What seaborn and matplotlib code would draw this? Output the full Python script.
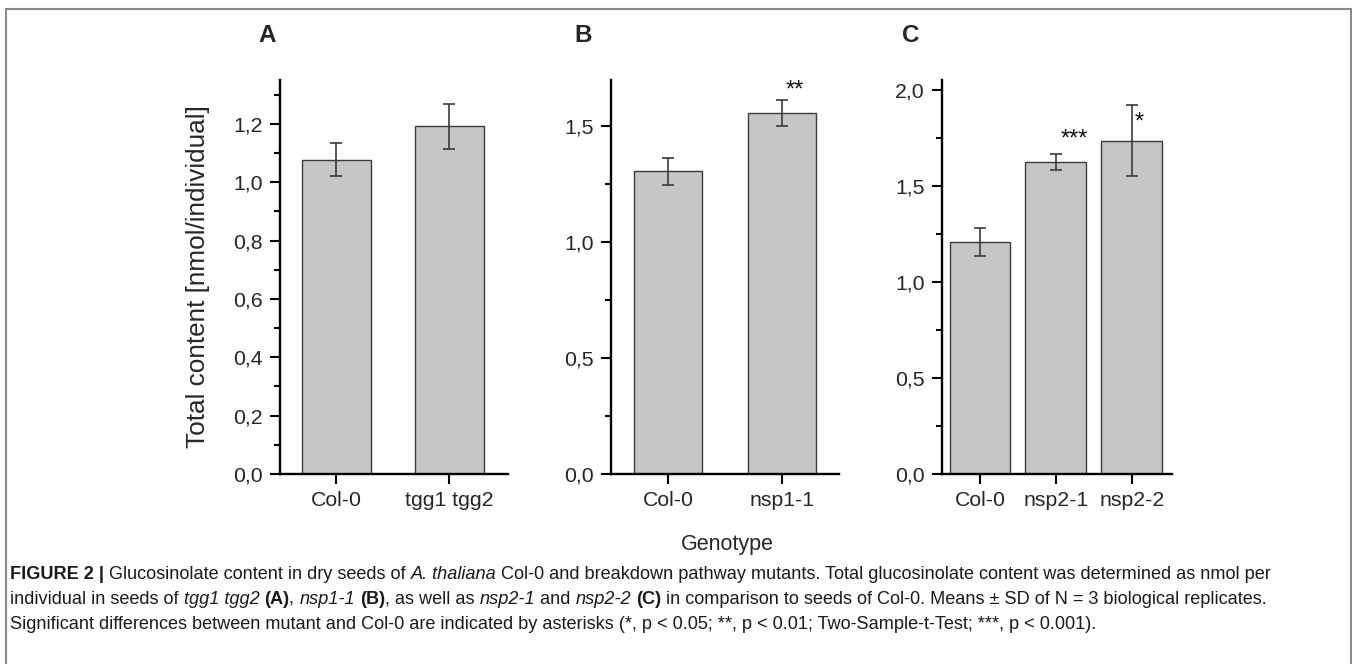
import matplotlib
matplotlib.use("Agg")
import matplotlib.pyplot as plt
import seaborn as sns
import pandas as pd
from matplotlib.ticker import MultipleLocator, FuncFormatter
from matplotlib.patches import Rectangle

# ---------------- data ----------------
cats_a = ["Col-0", "tgg1 tgg2"]
vals_a = [1.077, 1.191]
sd_a = [0.057, 0.078]
sig_a = ["", ""]

cats_b = ["Col-0", "nsp1-1"]
vals_b = [1.307, 1.559]
sd_b = [0.058, 0.056]
sig_b = ["", "**"]

cats_c = ["Col-0", "nsp2-1", "nsp2-2"]
vals_c = [1.207, 1.624, 1.734]
sd_c = [0.073, 0.041, 0.185]
sig_c = ["", "***", "*"]

panel_letters = ["A", "B", "C"]
y_label = "Total content [nmol/individual]"
x_label = "Genotype"

# ---------------- style ----------------
sns.set_theme(style="white")
plt.rcParams["font.family"] = ["Liberation Sans", "DejaVu Sans"]

W, H = 1352, 664
fig = plt.figure(figsize=(W / 100, H / 100), dpi=100)


def fx(px):
    return px / W


def fy(py):
    return 1 - py / H


BAR_FC = "#c6c6c6"
EDGE = "#3a3a3a"
TICK_FS = 15.3

panels = [
    (cats_a, vals_a, sd_a, sig_a, 280, 508, 1.35, 0.2, 0.1, 0.61, (-0.5, 1.52)),
    (cats_b, vals_b, sd_b, sig_b, 611, 839, 1.70, 0.5, 0.25, 0.60, (-0.5, 1.5)),
    (cats_c, vals_c, sd_c, sig_c, 942, 1172, 2.05, 0.5, 0.25, 0.80, (-0.5, 2.53)),
]
sig_offsets = {"**": (0.03, -0.01, "left", "bottom"),
               "***": (0.24, 0.02, "center", "bottom"),
               "*": (0.10, -0.15, "center", "bottom")}

top_px, bot_px = 80, 474
axes = []
for (cats, vals, sds, sigs, lpx, rpx, ymax, maj, mnr, bw, xl) in panels:
    ax = fig.add_axes([fx(lpx), fy(bot_px), (rpx - lpx) / W, (bot_px - top_px) / H])
    df = pd.DataFrame({"genotype": cats, "value": vals})
    sns.barplot(data=df, x="genotype", y="value", ax=ax, color=BAR_FC,
                width=bw, edgecolor=EDGE, linewidth=1.0, errorbar=None,
                saturation=1)
    ax.errorbar(range(len(cats)), vals, yerr=sds, fmt="none", ecolor=EDGE,
                elinewidth=1.2, capsize=4.2, capthick=1.2, zorder=5)
    for i, s in enumerate(sigs):
        if s:
            dx, dy, ha, va = sig_offsets[s]
            ax.text(i + dx, vals[i] + sds[i] + dy, s, ha=ha, va=va,
                    fontsize=17, color="#111111")
    ax.set_ylim(0, ymax)
    ax.set_xlim(*xl)
    ax.yaxis.set_major_locator(MultipleLocator(maj))
    ax.yaxis.set_minor_locator(MultipleLocator(mnr))
    ax.yaxis.set_major_formatter(FuncFormatter(lambda v, p: f"{v:.1f}".replace(".", ",")))
    for sp in ["top", "right"]:
        ax.spines[sp].set_visible(False)
    for sp in ["left", "bottom"]:
        ax.spines[sp].set_color("black")
        ax.spines[sp].set_linewidth(1.7)
    ax.tick_params(axis="y", which="major", direction="out", length=7.5, width=1.5,
                   labelsize=TICK_FS, pad=5, color="black", left=True)
    ax.tick_params(axis="y", which="minor", direction="out", length=4, width=1.5,
                   color="black", left=True)
    ax.tick_params(axis="x", which="major", direction="out", length=7.5, width=1.5,
                   labelsize=TICK_FS, pad=5, color="black", bottom=True)
    ax.set_xlabel("")
    ax.set_ylabel("")
    ax.set_facecolor("none")
    axes.append(ax)

# panel letters
for letter, xpx in zip(panel_letters, [267, 583, 911]):
    fig.text(fx(xpx), fy(42), letter, ha="center", va="baseline",
             fontsize=17.5, fontweight="bold")

fig.text(fx(198), fy(277), y_label, rotation=90, ha="center", va="center",
         fontsize=18.8)
fig.text(fx(727), fy(550), x_label, ha="center", va="baseline", fontsize=15.5)

# frame
fig.patches.append(Rectangle((fx(6), fy(700)), fx(1351) - fx(6), fy(9) - fy(700),
                             transform=fig.transFigure, fill=False,
                             edgecolor="#8a8a8a", linewidth=1.5))

# caption
CAP_FAM = ["Liberation Sans Narrow", "Liberation Sans", "DejaVu Sans"]
CAP_SIZE = 13.1
fig.canvas.draw()
renderer = fig.canvas.get_renderer()


def run_width(txt, weight, style):
    t = fig.text(0, 0, txt + "|", fontsize=CAP_SIZE, fontweight=weight,
                 fontstyle=style, family=CAP_FAM)
    t2 = fig.text(0, 0, "|", fontsize=CAP_SIZE, fontweight=weight,
                  fontstyle=style, family=CAP_FAM)
    w = t.get_window_extent(renderer).width - t2.get_window_extent(renderer).width
    t.remove()
    t2.remove()
    return w


def draw_runs(runs, x0, ybase):
    x = x0
    for txt, weight, style in runs:
        fig.text(fx(x), fy(ybase), txt, fontsize=CAP_SIZE, fontweight=weight,
                 fontstyle=style, family=CAP_FAM, va="baseline", ha="left",
                 color="#1a1a1a")
        x += run_width(txt, weight, style)


N, B, I = ("normal", "normal"), ("bold", "normal"), ("normal", "italic")
line1 = [("FIGURE 2 |", *B), (" Glucosinolate content in dry seeds of ", *N),
         ("A. thaliana", *I),
         (" Col-0 and breakdown pathway mutants. Total glucosinolate content was determined as nmol per", *N)]
line2 = [("individual in seeds of ", *N), ("tgg1 tgg2", *I), (" ", *N), ("(A)", *B),
         (", ", *N), ("nsp1-1", *I), (" ", *N), ("(B)", *B), (", as well as ", *N),
         ("nsp2-1", *I), (" and ", *N), ("nsp2-2", *I), (" ", *N), ("(C)", *B),
         (" in comparison to seeds of Col-0. Means \u00b1 SD of N = 3 biological replicates.", *N)]
line3 = [("Significant differences between mutant and Col-0 are indicated by asterisks "
          "(*, p < 0.05; **, p < 0.01; Two-Sample-t-Test; ***, p < 0.001).", *N)]

draw_runs(line1, 10, 579)
draw_runs(line2, 10, 604)
draw_runs(line3, 10, 629)

fig.savefig("out.png", dpi=100)
